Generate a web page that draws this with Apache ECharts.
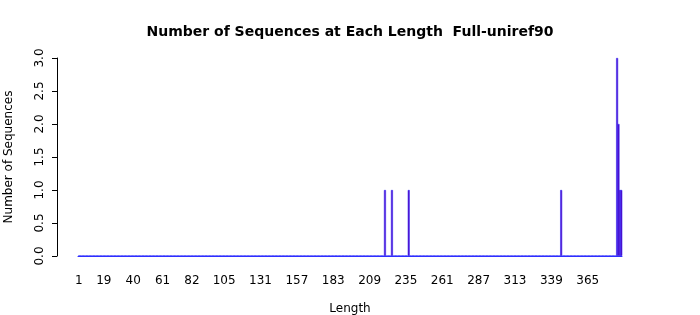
<!DOCTYPE html>
<html>
<head>
<meta charset="utf-8">
<script src="https://cdn.jsdelivr.net/npm/echarts@6/dist/echarts.min.js"></script>
<style>html,body{margin:0;padding:0;background:#fff}#c{width:700px;height:315px}</style>
</head>
<body>
<div id="c"></div>
<script>
// Data
var maxLength = 389;
var lengths = [220, 225, 237, 346, 386, 387, 388, 389];
var counts  = [1, 1, 1, 1, 3, 2, 1, 1];
var tickLabels = ['1','19','40','61','82','105','131','157','183','209','235','261','287','313','339','365'];

var categories = [];
var values = [];
for (var i = 1; i <= maxLength; i++) { categories.push(String(i)); values.push(0); }
lengths.forEach(function (L, k) { values[L - 1] = counts[k]; });

var chart = echarts.init(document.getElementById('c'), null, {renderer: 'canvas'});
var font = 'DejaVu Sans';
chart.setOption({
  animation: false,
  backgroundColor: '#ffffff',
  title: {
    text: 'Number of Sequences at Each Length  Full-uniref90',
    left: 345, top: 20, textAlign: 'center',
    textStyle: {fontFamily: font, fontSize: 14, fontWeight: 'bold', color: '#000'}
  },
  grid: {left: 78, right: 78, top: 58, bottom: 59, containLabel: false, outerBoundsMode: 'none'},
  xAxis: {
    type: 'category',
    data: categories,
    boundaryGap: true,
    name: 'Length',
    nameLocation: 'middle',
    nameGap: 47,
    nameTextStyle: {fontFamily: font, fontSize: 12, color: '#000'},
    axisLine: {show: true, lineStyle: {color: '#3030ff', width: 1}},
    axisTick: {show: false},
    axisLabel: {
      interval: function (idx, val) { return tickLabels.indexOf(val) >= 0; },
      margin: 19,
      fontFamily: font, fontSize: 12, color: '#000'
    },
    splitLine: {show: false}
  },
  yAxis: {
    type: 'value',
    min: 0, max: 3, interval: 0.5,
    offset: 21,
    name: 'Number of Sequences',
    nameLocation: 'middle',
    nameGap: 42,
    nameTextStyle: {fontFamily: font, fontSize: 12, color: '#000'},
    axisLine: {show: true, lineStyle: {color: '#000', width: 1}},
    axisTick: {show: true, length: 5, lineStyle: {color: '#000'}},
    axisLabel: {
      rotate: 90, margin: 11,
      fontFamily: font, fontSize: 12, color: '#000',
      formatter: function (v) { return v.toFixed(1); }
    },
    splitLine: {show: false}
  },
  series: [{
    type: 'bar',
    data: values,
    barWidth: 2,
    itemStyle: {color: '#5a00b8', borderColor: '#3030ff', borderWidth: 0.6}
  }]
});
</script>
</body>
</html>
